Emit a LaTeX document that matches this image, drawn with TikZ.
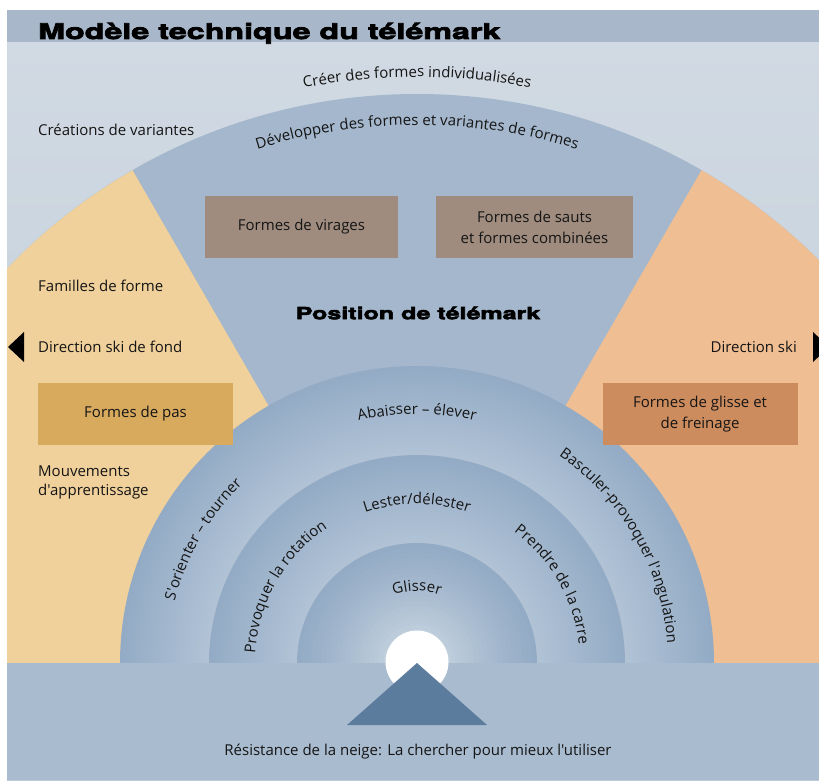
\documentclass[tikz,border=0pt]{standalone}
\usepackage{fontspec}
\setmainfont{Open Sans}[Ligatures=TeXOff]
\newfontface\titlefont{TeX Gyre Heros Bold}[FakeStretch=1.5,FakeBold=3.5]
\usetikzlibrary{decorations.text}
\definecolor{bgtop}{HTML}{D1DAE3}
\definecolor{bgbot}{HTML}{BDCAD7}
\definecolor{titleband}{HTML}{A8B8CA}
\definecolor{medblue}{HTML}{A4B7CC}
\definecolor{tanc}{HTML}{F0D19B}
\definecolor{peach}{HTML}{F0BE93}
\definecolor{boxpas}{HTML}{D8AA5E}
\definecolor{boxglisse}{HTML}{CD8C5E}
\definecolor{boxtop}{HTML}{9F8C7F}
\definecolor{ringrim}{HTML}{93ABC5}
\definecolor{ringin}{HTML}{B2C3D6}
\definecolor{ringcen}{HTML}{EEF2F5}
\definecolor{bandc}{HTML}{A9BBCF}
\definecolor{tric}{HTML}{5C7C9D}
\definecolor{ink}{HTML}{151515}
\newcommand\bt{\color{ink}\fontsize{15}{19}\selectfont}
\begin{document}
\begin{tikzpicture}[x=1pt,y=1pt,
  lbl/.style={text=ink,font=\fontsize{15}{19}\selectfont,inner sep=0pt},
  boxlbl/.style={lbl,align=center,minimum height=62,font=\fontsize{15}{21}\selectfont},
  arctext/.style={decorate,decoration={text along path,text align=center,text={#1}}}]
\useasboundingbox (0,0) rectangle (819,780);
\coordinate (C) at (417,117);
\begin{scope}
\clip (7,0) rectangle (819,770);
% background
\shade[top color=bgtop,bottom color=bgbot] (7,0) rectangle (819,738);
\fill[titleband] (7,738) rectangle (819,770);
% big sector
\fill[medblue] ([shift={(0:569)}]C) arc[start angle=0,end angle=180,radius=569] -- cycle;
\fill[tanc] (C) -- ([shift={(120:569)}]C) arc[start angle=120,end angle=180,radius=569] -- cycle;
\fill[peach] (C) -- ([shift={(0:569)}]C) arc[start angle=0,end angle=60,radius=569] -- cycle;
% rings
\foreach \Ro/\Ri/\cb/\ex in {297/208/ringin/1, 208/120/ringin/1, 120/0/ringcen/0.55}{
  \foreach \i in {0,...,24}{
    \pgfmathsetmacro\rr{\Ro-(\Ro-\Ri)*\i/25}
    \pgfmathsetmacro\pp{100*(1-\i/25)^\ex}
    \fill[ringrim!\pp!\cb] ([shift={(0:\rr)}]C) arc[start angle=0,end angle=180,radius=\rr] -- cycle;
  }
}
% bottom band, sun, mountain
\fill[bandc] (7,0) rectangle (819,117);
\fill[white] (417,118) circle[radius=31.5];
\fill[tric] (C) -- (487,55) -- (347,55) -- cycle;
% direction arrows
\fill[black] (8,433) -- (24,448) -- (24,418) -- cycle;
\fill[black] (813,448) -- (829,433) -- (813,418) -- cycle;
\end{scope}
% title
\node[anchor=base west,inner sep=0pt,text=black,font=\titlefont\fontsize{21.5}{24}\selectfont] (title) at (38,741) {Modèle technique du télémark};
\node[inner sep=0pt,text=black,font=\titlefont\fontsize{16.7}{20}\selectfont] (pos) at (418,467) {Position de télémark};
% boxes
\node[boxlbl,fill=boxtop,minimum width=193] (virages) at (301.5,553) {Formes de virages};
\node[boxlbl,fill=boxtop,minimum width=197] (sauts) at (534.5,553) {Formes de sauts\\et formes combinées};
\node[boxlbl,fill=boxpas,minimum width=195] (pas) at (135.5,366) {Formes de pas};
\node[boxlbl,fill=boxglisse,minimum width=195] (glisse) at (700,366) {Formes de glisse et\\de freinage};
% side labels
\node[lbl,anchor=west] (crea) at (38,650) {Créations de variantes};
\node[lbl,anchor=west] (fam) at (38,494) {Familles de forme};
\node[lbl,anchor=west] (fond) at (38,433) {Direction ski de fond};
\node[lbl,anchor=east] (ski) at (797,433) {Direction ski};
\node[lbl,anchor=west,align=left] (mouv) at (38,298) {Mouvements\\d'apprentissage};
\node[lbl] (res) at (418,28) {Résistance de la neige: La chercher pour mieux l'utiliser};
% curved labels
\path[arctext={|\bt|Créer des formes individualisées}] ([shift={(112:586)}]C) arc[start angle=112,end angle=68,radius=586];
\path[arctext={|\bt|Développer des formes et variantes de formes}] ([shift={(118:538)}]C) arc[start angle=118,end angle=62,radius=538];
\path[arctext={|\bt|Abaisser – élever}] ([shift={(130:249)}]C) arc[start angle=130,end angle=50,radius=249];
\path[arctext={|\bt|S'orienter – tourner}] ([shift={(185:250)}]C) arc[start angle=185,end angle=115,radius=250];
\path[arctext={|\bt|Basculer-provoquer l'angulation}] ([shift={(68:251)}]C) arc[start angle=68,end angle=-8,radius=251];
\path[arctext={|\bt|Lester/délester}] ([shift={(130:159)}]C) arc[start angle=130,end angle=50,radius=159];
\path[arctext={|\bt|Provoquer la rotation}] ([shift={(190:162)}]C) arc[start angle=190,end angle=110,radius=162];
\path[arctext={|\bt|Prendre de la carre}] ([shift={(70:163)}]C) arc[start angle=70,end angle=-10,radius=163];
\path[arctext={|\bt|Glisser}] ([shift={(140:72)}]C) arc[start angle=140,end angle=40,radius=72];
\end{tikzpicture}
\end{document}
